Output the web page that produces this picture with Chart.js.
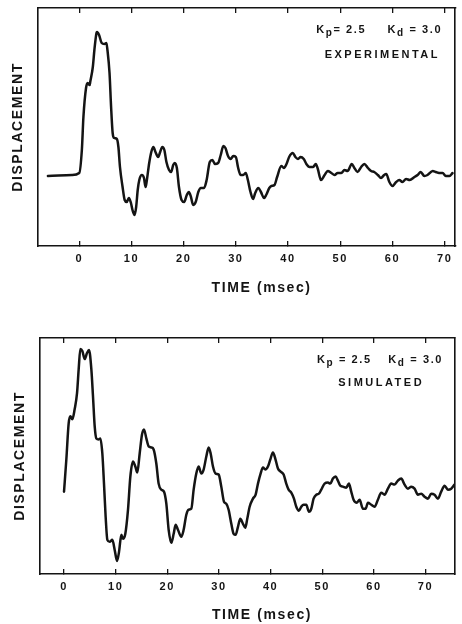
<!DOCTYPE html>
<html><head><meta charset="utf-8">
<script src="https://cdn.jsdelivr.net/npm/chart.js@4.4.1/dist/chart.umd.min.js"></script>
<style>
html,body{margin:0;padding:0;background:#fff;}
#wrap{position:relative;width:462px;height:624px;overflow:hidden;background:#fff;}
canvas{position:absolute;left:0;display:block;}
#c1{top:0;} #c2{top:310px;}
</style></head><body>
<div id="wrap">
<canvas id="c1" width="462" height="310"></canvas>
<canvas id="c2" width="462" height="314"></canvas>
</div>
<script>
// ---- data ----
const timeTicks = [0, 10, 20, 30, 40, 50, 60, 70];
const gainKp = 2.5;
const gainKd = 3.0;

const expTime = [-6.0,-1.4,0.0,0.5,0.8,1.3,1.6,2.0,2.1,2.6,
 2.9,3.3,3.4,3.8,4.3,4.8,5.2,5.4,5.8,6.1,
 6.4,6.7,7.2,7.5,7.8,8.3,8.7,9.1,9.5,9.9,
 10.2,10.6,10.9,11.2,11.5,12.0,12.4,12.7,12.9,13.4,
 13.8,14.2,14.6,15.1,15.5,15.9,16.3,16.7,17.2,17.6,
 18.0,18.3,18.7,19.1,19.6,20.1,20.6,21.0,21.4,21.8,
 22.3,22.8,23.3,23.9,24.4,25.0,25.5,26.0,26.6,27.1,
 27.6,28.0,28.5,29.0,29.5,30.0,30.4,30.9,31.4,31.9,
 32.3,32.8,33.3,33.7,34.3,34.8,35.4,35.8,36.4,36.8,
 37.4,37.9,38.7,39.2,39.7,40.2,40.9,41.4,41.9,42.4,
 43.0,43.5,44.1,44.8,45.3,45.7,46.3,47.0,47.6,48.3,
 48.9,49.5,50.2,50.8,51.4,52.2,52.7,53.3,54.0,54.6,
 55.3,55.9,56.5,57.2,57.8,58.4,58.8,59.4,60.0,60.7,
 61.3,61.9,62.6,63.3,64.2,64.8,65.4,66.1,66.7,67.7,
 68.3,68.9,69.6,70.2,70.9,71.5];
const expDisp = [0.00,0.01,0.03,0.26,0.59,0.88,0.93,0.91,0.94,1.09,
 1.26,1.43,1.44,1.41,1.33,1.32,1.33,1.26,1.03,0.69,
 0.43,0.38,0.37,0.29,0.09,-0.11,-0.24,-0.26,-0.22,-0.27,
 -0.34,-0.39,-0.31,-0.14,-0.04,0.01,-0.02,-0.11,-0.06,0.13,
 0.24,0.29,0.24,0.19,0.24,0.29,0.26,0.14,0.06,0.04,
 0.11,0.13,0.08,-0.11,-0.24,-0.26,-0.19,-0.16,-0.21,-0.29,
 -0.26,-0.16,-0.12,-0.12,-0.04,0.14,0.16,0.12,0.13,0.21,
 0.30,0.28,0.20,0.17,0.20,0.19,0.09,0.01,0.01,0.03,
 -0.04,-0.16,-0.23,-0.17,-0.12,-0.16,-0.22,-0.19,-0.12,-0.10,
 -0.09,-0.01,0.10,0.08,0.12,0.19,0.23,0.19,0.17,0.19,
 0.17,0.12,0.09,0.09,0.12,0.07,-0.04,0.01,0.05,0.03,
 0.01,0.03,0.03,0.06,0.05,0.12,0.08,0.04,0.09,0.12,
 0.08,0.05,0.04,0.01,-0.02,0.01,0.02,-0.06,-0.10,-0.06,
 -0.04,-0.06,-0.03,-0.04,-0.01,0.01,0.04,0.00,0.01,0.05,
 0.04,0.03,0.03,0.00,0.00,0.03];

const simTime = [0.0,0.45,0.9,1.23,1.61,2.06,2.52,2.84,3.16,3.55,
 4.0,4.45,4.84,5.29,5.61,5.94,6.26,6.71,7.03,7.42,
 7.74,8.06,8.39,8.84,9.35,9.81,10.26,10.65,11.1,11.42,
 11.87,12.39,12.84,13.35,13.81,14.19,14.65,15.1,15.48,15.94,
 16.39,16.9,17.35,17.87,18.32,18.84,19.35,19.81,20.26,20.77,
 21.23,21.61,22.06,22.71,23.16,23.68,24.13,24.65,25.1,25.61,
 26.06,26.58,27.03,27.55,28.0,28.39,28.84,29.35,29.94,30.45,
 30.97,31.42,31.87,32.39,32.84,33.23,33.68,34.13,34.65,35.1,
 35.48,35.94,36.58,37.1,37.55,38.06,38.52,38.97,39.48,39.94,
 40.45,40.9,41.42,41.94,42.52,43.03,43.48,44.0,44.52,44.97,
 45.48,45.94,46.39,46.9,47.42,47.87,48.32,48.84,49.35,49.81,
 50.45,51.1,51.55,52.06,52.58,53.03,53.48,54.0,54.65,55.16,
 55.61,56.06,56.71,57.23,57.87,58.39,58.84,59.48,60.13,60.77,
 61.42,62.06,62.71,63.35,64.0,64.65,65.29,65.94,66.58,67.23,
 67.87,68.52,69.16,69.81,70.45,71.1,71.74,72.39,73.03,73.68,
 74.32,74.97,75.61];
const simDisp = [0.00,0.32,0.68,0.75,0.72,0.82,0.98,1.22,1.42,1.40,
 1.32,1.38,1.41,1.22,0.95,0.65,0.53,0.52,0.53,0.38,
 0.08,-0.25,-0.48,-0.50,-0.48,-0.58,-0.69,-0.60,-0.43,-0.47,
 -0.42,-0.18,0.15,0.30,0.25,0.19,0.38,0.57,0.62,0.53,
 0.45,0.44,0.42,0.28,0.08,0.02,0.00,-0.12,-0.38,-0.51,
 -0.42,-0.33,-0.38,-0.45,-0.38,-0.23,-0.18,-0.17,0.02,0.18,
 0.25,0.18,0.22,0.35,0.44,0.38,0.25,0.18,0.17,0.05,
 -0.10,-0.12,-0.18,-0.32,-0.42,-0.43,-0.35,-0.27,-0.32,-0.36,
 -0.27,-0.15,-0.07,-0.03,0.08,0.18,0.24,0.22,0.25,0.32,
 0.39,0.33,0.23,0.20,0.17,0.08,0.02,-0.01,-0.07,-0.15,
 -0.19,-0.15,-0.13,-0.13,-0.20,-0.17,-0.07,-0.03,-0.02,0.02,
 0.08,0.09,0.08,0.13,0.15,0.11,0.06,0.05,0.04,0.08,
 0.00,-0.08,-0.11,-0.08,-0.17,-0.17,-0.11,-0.13,-0.15,-0.08,
 -0.01,-0.03,0.03,0.08,0.07,0.11,0.13,0.07,0.03,0.05,
 0.03,-0.03,-0.02,-0.05,-0.07,-0.02,-0.03,-0.07,0.00,0.06,
 0.02,0.03,0.07];

// ---- styling ----
const INK = '#141414';
const FAM = "'Liberation Sans', Arial, Helvetica, sans-serif";

const spacingPlugin = {
  id: 'spacing',
  beforeDraw(chart) { chart.ctx.letterSpacing = '1.6px'; }
};

const gainsPlugin = {
  id: 'gains',
  afterDraw(chart, args, o) {
    const ctx = chart.ctx, ca = chart.chartArea;
    ctx.save();
    ctx.fillStyle = INK;
    ctx.textBaseline = 'alphabetic';
    ctx.textAlign = 'left';
    ctx.letterSpacing = '1.6px';
    const mainF = 'bold 11px ' + FAM;
    const subF = 'bold 10px ' + FAM;
    const parts = [
      ['K', mainF, 0], ['p', subF, 3], [o.eq1 + gainKp.toFixed(1), mainF, 0],
      ['K', mainF, 0], ['d', subF, 3], [o.eq2 + gainKd.toFixed(1), mainF, 0]
    ];
    let total = 0;
    const widths = parts.map(p => { ctx.font = p[1]; const w = ctx.measureText(p[0]).width; total += w; return w; });
    const gap = o.lineWidth - total;
    let x = ca.right - o.lineRight;
    const y = ca.top + o.lineY;
    parts.forEach((p, i) => {
      ctx.font = p[1];
      ctx.fillText(p[0], x, y + p[2]);
      x += widths[i];
      if (i === 2) x += gap;
    });
    ctx.letterSpacing = '2.5px';
    ctx.font = 'bold 11px ' + FAM;
    ctx.textAlign = 'center';
    ctx.fillText(o.caption, ca.right - o.capRight + 1.2, ca.top + o.capY);
    ctx.restore();
  }
};

function build(id, time, disp, g) {
  const pts = time.map((t, i) => ({ x: t, y: disp[i] }));
  const setTicks = s => { s.ticks = timeTicks.map(v => ({ value: v })); };
  const border = { display: true, color: INK, width: 1.6 };
  const fitX = s => {
    s.height = g.bottomH;
    if (!s._titleShifted) {
      const orig = s.drawTitle;
      s.drawTitle = function () {
        this.ctx.save();
        this.ctx.translate(g.xTitleShift, 0);
        orig.call(this);
        this.ctx.restore();
      };
      s._titleShifted = true;
    }
  };
  return new Chart(document.getElementById(id), {
    type: 'line',
    data: { datasets: [{ data: pts, borderColor: INK, borderWidth: 2.5, pointRadius: 0,
      cubicInterpolationMode: 'monotone', fill: false, borderJoinStyle: 'round', borderCapStyle: 'round' }] },
    options: {
      responsive: false, animation: false, events: [],
      layout: { padding: 0 },
      plugins: { legend: { display: false }, tooltip: { enabled: false }, gains: g.annot },
      scales: {
        x: { type: 'linear', position: 'bottom', min: g.xMin, max: g.xMax,
          afterBuildTicks: setTicks, afterFit: fitX,
          ticks: { color: INK, font: { family: FAM, size: 11, weight: 'bold' }, padding: 11, maxRotation: 0, autoSkip: false },
          grid: { drawOnChartArea: false, drawTicks: true, tickLength: -5, color: INK, lineWidth: 1.3 },
          border: border,
          title: { display: true, text: 'TIME (msec)', color: INK,
            font: { family: FAM, size: 14, weight: 'bold' }, padding: { top: 0, bottom: g.xTitlePad } } },
        xTop: { type: 'linear', position: 'top', min: g.xMin, max: g.xMax,
          afterBuildTicks: setTicks, afterFit: s => { s.height = g.topH; },
          ticks: { display: false },
          grid: { drawOnChartArea: false, drawTicks: true, tickLength: -5, color: INK, lineWidth: 1.3 },
          border: border },
        y: { type: 'linear', position: 'left', min: g.yMin, max: g.yMax,
          afterFit: s => { s.width = g.leftW; },
          ticks: { display: false }, grid: { display: false }, border: border,
          title: { display: true, text: 'DISPLACEMENT', color: INK,
            font: { family: FAM, size: 14, weight: 'bold' }, padding: { top: g.yTitlePad, bottom: 0 } } },
        yRight: { type: 'linear', position: 'right', min: g.yMin, max: g.yMax,
          afterFit: s => { s.width = g.rightW; },
          ticks: { display: false }, grid: { display: false }, border: border }
      }
    },
    plugins: [spacingPlugin, gainsPlugin]
  });
}

build('c1', expTime, expDisp, {
  xMin: -7.9, xMax: 72.0, yMin: -0.70, yMax: 1.68,
  leftW: 38, rightW: 6, topH: 8, bottomH: 64, xTitlePad: 13, yTitlePad: 10, xTitleShift: 15,
  annot: { eq1: '= ', eq2: ' = ', lineWidth: 126, lineRight: 139, lineY: 25, caption: 'EXPERIMENTAL', capRight: 74, capY: 50 }
});
build('c2', simTime, simDisp, {
  xMin: -4.65, xMax: 75.7, yMin: -0.82, yMax: 1.53,
  leftW: 40, rightW: 7, topH: 28, bottomH: 50, xTitlePad: 0.6, yTitlePad: 11.6, xTitleShift: 14.5,
  annot: { eq1: ' = ', eq2: ' = ', lineWidth: 126, lineRight: 138, lineY: 25, caption: 'SIMULATED', capRight: 75, capY: 48 }
});
</script>
</body></html>
